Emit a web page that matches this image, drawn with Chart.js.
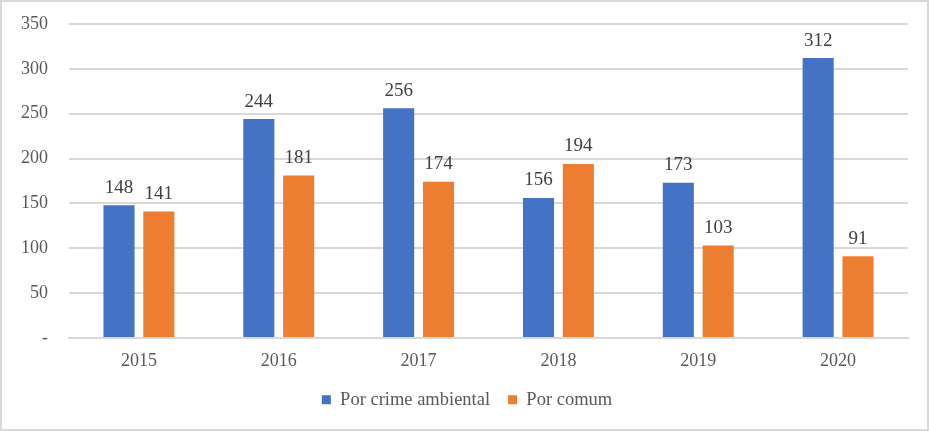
<!DOCTYPE html>
<html>
<head>
<meta charset="utf-8">
<script src="https://cdn.jsdelivr.net/npm/chart.js@4"></script>
<style>
  html, body { margin: 0; padding: 0; background: #fff; }
  #wrap {
    width: 929px; height: 431px; box-sizing: border-box;
    border: 2px solid #d9d9d9; position: relative;
  }
  #chart { position: absolute; left: -2px; top: -2px; }
</style>
</head>
<body>
<div id="wrap"><canvas id="chart" width="929" height="431"></canvas></div>
<script>
const years = ["2015", "2016", "2017", "2018", "2019", "2020"];
const crimeAmbiental = [148, 244, 256, 156, 173, 312];
const crimeComum = [141, 181, 174, 194, 103, 91];
const yTicks = [0, 50, 100, 150, 200, 250, 300, 350];

const FONT = "'Liberation Serif', 'Times New Roman', serif";

// draws the value above each bar
const barValues = {
  id: "barValues",
  afterDatasetsDraw(chart) {
    const ctx = chart.ctx;
    ctx.save();
    ctx.font = "19px " + FONT;
    ctx.fillStyle = "#404040";
    ctx.textAlign = "center";
    ctx.textBaseline = "bottom";
    chart.data.datasets.forEach((ds, i) => {
      chart.getDatasetMeta(i).data.forEach((bar, j) => {
        ctx.fillText(ds.data[j], bar.x, bar.y - 8);
      });
    });
    ctx.restore();
  }
};

// legend centred on the whole canvas, not the padded box
const legendShift = {
  id: "legendShift",
  afterLayout(chart) {
    chart.legend.left += 13;
    chart.legend.right += 13;
  }
};

new Chart(document.getElementById("chart"), {
  type: "bar",
  data: {
    labels: years,
    datasets: [
      {
        label: "Por crime ambiental",
        data: crimeAmbiental,
        backgroundColor: "#4472C4",
        categoryPercentage: 0.57,
        barPercentage: 0.78
      },
      {
        label: "Por comum",
        data: crimeComum,
        backgroundColor: "#ED7D31",
        categoryPercentage: 0.57,
        barPercentage: 0.78
      }
    ]
  },
  options: {
    responsive: false,
    animation: false,
    layout: { padding: { top: 24, right: 21, bottom: 12, left: 0 } },
    plugins: {
      legend: {
        position: "bottom",
        labels: {
          font: { family: FONT, size: 18.5 },
          color: "#595959",
          boxWidth: 9,
          boxHeight: 9,
          padding: 18
        }
      },
      tooltip: { enabled: false }
    },
    scales: {
      x: {
        afterFit(scale) { scale.height = scale.height - 13; },
        grid: { display: false, drawTicks: false },
        border: { color: "#d9d9d9", width: 2 },
        ticks: {
          font: { family: FONT, size: 18 },
          color: "#595959",
          padding: 13
        }
      },
      y: {
        min: 0,
        max: 350,
        afterBuildTicks(scale) {
          scale.ticks = yTicks.map(v => ({ value: v }));
        },
        afterFit(scale) {
          scale.width = 69;
          scale.paddingTop = 0;
          scale.paddingBottom = 0;
        },
        grid: { color: "#d9d9d9", lineWidth: 2, drawTicks: false },
        border: { display: false },
        ticks: {
          font: { family: FONT, size: 18 },
          color: "#595959",
          padding: 21,
          callback: v => (v === 0 ? "-" : v)
        }
      }
    }
  },
  plugins: [barValues, legendShift]
});
</script>
</body>
</html>
